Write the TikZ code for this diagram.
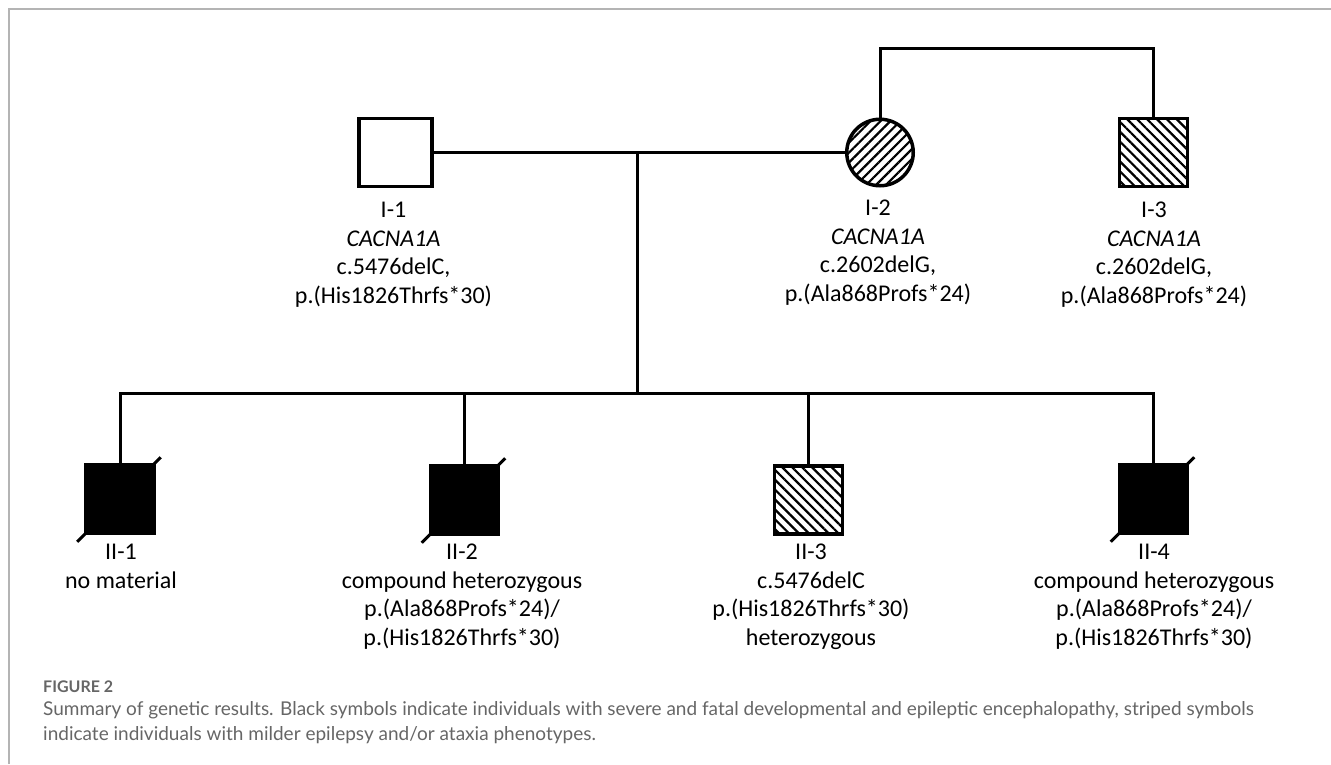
\documentclass[tikz,border=0pt]{standalone}
\usepackage{fontspec}
\setmainfont{Carlito}
\newfontfamily\captionfont{Lato}
\usepackage{tikz}
\usetikzlibrary{calc}
\usetikzlibrary{patterns.meta}
\definecolor{framegray}{HTML}{B4B4B4}
\definecolor{capgray}{HTML}{666666}
\tikzset{
  male/.style={draw, rectangle, line width=3.5pt, minimum width=68pt, minimum height=68pt, inner sep=0pt},
  female/.style={draw, circle, line width=3.5pt, minimum size=66.5pt, inner sep=0pt},
  affected/.style={fill=black},
  stripesup/.style={pattern={Lines[angle=45,distance=7pt,line width=2.2pt]}},
  stripesdown/.style={pattern={Lines[angle=-45,distance=7pt,line width=2.2pt]}},
  info/.style={anchor=north, align=center, inner sep=0pt, font=\fontsize{24}{28.5}\selectfont},
  link/.style={line width=3pt},
}
\newcommand{\malesym}[4]{ \node[male, #4] (#1) at ( #2 , #3 ) {};}
\newcommand{\femalesym}[4]{ \node[female, #4] (#1) at ( #2 , #3 ) {};}
\newcommand{\infotext}[4]{ \node[info] (#1) at ( #2 , #3 ) {#4};}
\newcommand{\deceased}[1]{ \draw[link] ($(#1.south west)+(-7,7)$) -- ($(#1.north east)+(5,-6)$);}

\begin{document}
\begin{tikzpicture}[x=1pt,y=-1pt]
        \useasboundingbox (0,0) rectangle (1331,764);
        \draw[framegray, line width=2pt] (9,764) -- (9,9) -- (1331,9);

        \malesym{I1}{395.5}{152.5}{minimum width=73pt}
        \femalesym{I2}{880}{152.5}{stripesup}
        \malesym{I3}{1153.5}{152.5}{stripesdown}

        \malesym{II1}{120}{499}{affected}
        \malesym{II2}{464.5}{500}{affected}
        \malesym{II3}{808.5}{500}{stripesdown}
        \malesym{II4}{1153.5}{499}{affected}

        \deceased{II1}
        \deceased{II2}
        \deceased{II4}

        \coordinate (mate) at (637.5,152.5);
        \coordinate (sibs) at (637.5,393);
        \coordinate (top) at (880,48);
        \draw[link] (I1.east) -- (I2.west);
        \draw[link] (mate) -- (sibs);
        \draw[link] (I2.north) -- (top) -- (I3.north |- top) -- (I3.north);
        \draw[link] (II1.north) -- (II1.north |- sibs) -- (II4.north |- sibs) -- (II4.north);
        \foreach \kid in {II2,II3}
            \draw[link] (\kid.north |- sibs) -- (\kid.north);

        \infotext{I1lbl}{393.5}{202}{I-1\\\textit{CACNA1A}\\c.5476delC,\\p.(His1826Thrfs*30)}
        \infotext{I2lbl}{878}{200}{I-2\\\textit{CACNA1A}\\c.2602delG,\\p.(Ala868Profs*24)}
        \infotext{I3lbl}{1154}{202}{I-3\\\textit{CACNA1A}\\c.2602delG,\\p.(Ala868Profs*24)}

        \infotext{II1lbl}{121}{544}{II-1\\no material}
        \infotext{II2lbl}{462}{544}{II-2\\compound heterozygous\\p.(Ala868Profs*24)/\\p.(His1826Thrfs*30)}
        \infotext{II3lbl}{811}{544}{II-3\\c.5476delC\\p.(His1826Thrfs*30)\\heterozygous}
        \infotext{II4lbl}{1154}{544}{II-4\\compound heterozygous\\p.(Ala868Profs*24)/\\p.(His1826Thrfs*30)}

        % caption
        \node[anchor=west, inner sep=0pt, text=capgray, font=\captionfont\bfseries\fontsize{16}{18}\selectfont] (fignum) at (43,687) {FIGURE 2};
        \node[anchor=north west, align=left, inner sep=0pt, text=capgray, font=\captionfont\fontsize{19}{25}\selectfont] (figcap) at (43,701) {Summary of genetic results. Black symbols indicate individuals with severe and fatal developmental and epileptic encephalopathy, striped symbols\\indicate individuals with milder epilepsy and/or ataxia phenotypes.};
\end{tikzpicture}
\end{document}
